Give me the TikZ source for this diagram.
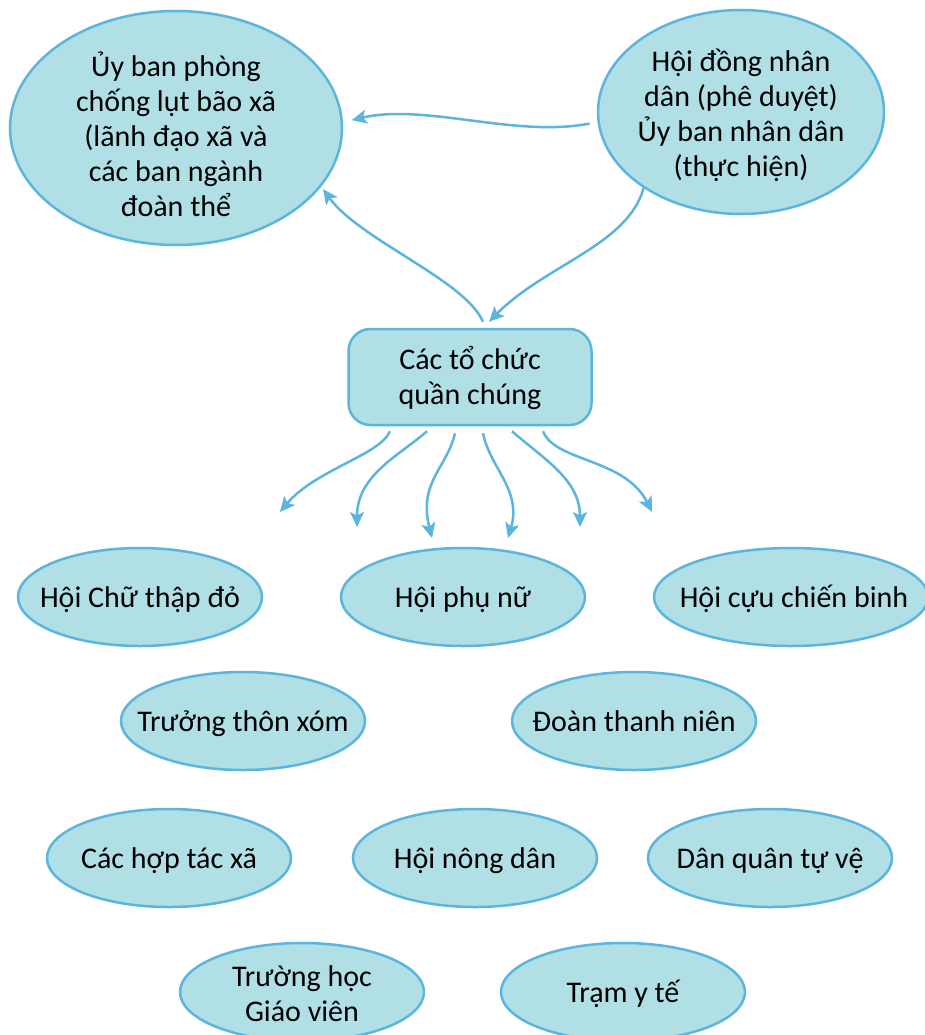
\documentclass[tikz,border=0pt]{standalone}
\usepackage{fontspec}
\setmainfont{Carlito}
\usetikzlibrary{arrows.meta,shapes.geometric}
\definecolor{bfill}{HTML}{B0DFE6}
\definecolor{bline}{HTML}{5BB5DC}
\begin{document}
\begin{tikzpicture}[x=1pt,y=-1pt,
  bub/.style={ellipse, draw=bline, fill=bfill, line width=2.5pt, inner sep=0pt},
  rowbub/.style={bub, minimum width=244pt, minimum height=98pt},
  txt/.style={align=center, font=\fontsize{30}{35}\selectfont, text=black, inner sep=0pt},
  ltxt/.style={txt, anchor=base},
  conn/.style={draw=bline, line width=2.5pt, -{Stealth[length=15pt,width=14pt,inset=3.5pt]}},
]
\useasboundingbox (0,0) rectangle (925,1035);

% top nodes
\node[bub, minimum width=332pt, minimum height=234pt] (ub) at (176,128) {};
\node[txt] (ubt) at (176,134) {Ủy ban phòng\\chống lụt bão xã\\(lãnh đạo xã và\\các ban ngành\\đoàn thể};

\node[bub, minimum width=286pt, minimum height=204pt] (hd) at (741,112) {};
\node[txt] (hdt) at (741,115) {Hội đồng nhân\\dân (phê duyệt)\\Ủy ban nhân dân\\(thực hiện)};

\node[draw=bline, fill=bfill, line width=2.5pt, rounded corners=22pt,
      minimum width=243pt, minimum height=96pt] (tc) at (470,377) {};
\node[txt] (tct) at (470,378) {Các tổ chức\\quần chúng};

% lower ellipses
\node[rowbub] (ctd) at (140,597) {};
\node[ltxt] at (140,607) {Hội Chữ thập đỏ};
\node[rowbub] (hpn) at (463,597) {};
\node[ltxt] at (463,607) {Hội phụ nữ};
\node[bub, minimum width=274pt, minimum height=98pt] (ccb) at (791,597) {};
\node[ltxt] at (794,607) {Hội cựu chiến binh};

\node[rowbub] (ttx) at (243,721) {};
\node[ltxt] at (243,731) {Trưởng thôn xóm};
\node[rowbub] (dtn) at (634,721) {};
\node[ltxt] at (634,731) {Đoàn thanh niên};

\node[rowbub] (htx) at (169,858) {};
\node[ltxt] at (169,868) {Các hợp tác xã};
\node[rowbub] (hnd) at (475,858) {};
\node[ltxt] at (475,868) {Hội nông dân};
\node[rowbub] (dqtv) at (770,858) {};
\node[ltxt] at (770,868) {Dân quân tự vệ};

\node[rowbub] (th) at (302,992) {};
\node[txt] at (302,994) {Trường học\\Giáo viên};
\node[rowbub] (tyt) at (623,992) {};
\node[ltxt] at (623,1002) {Trạm y tế};

% top connectors
\draw[conn, shorten <=8pt, shorten >=9pt] (hd.184) .. controls (515,138) and (425,103) .. (ub.2);
\draw[conn] (hd.218) .. controls (628,245) and (545,265) .. ([xshift=19pt,yshift=6pt]tc.north);
\draw[conn, shorten >=3pt] ([xshift=13pt,yshift=6pt]tc.north) .. controls (465,280) and (360,240) .. (ub.-22);

% free ends of the lower arrows
\coordinate (e1) at (280,512);
\coordinate (e2) at (357,527);
\coordinate (e3) at (432,538);
\coordinate (e4) at (508,538);
\coordinate (e5) at (580,527);
\coordinate (e6) at (652,512);

\draw[conn] ([xshift=-80pt,yshift=-5pt]tc.south) .. controls (380,455) and (315,470) .. (e1);
\draw[conn] ([xshift=-43pt,yshift=-5pt]tc.south) .. controls (400,455) and (357,475) .. (e2);
\draw[conn] ([xshift=-15pt,yshift=-7pt]tc.south) .. controls (447,468) and (418,482) .. (e3);
\draw[conn] ([xshift=13pt,yshift=-7pt]tc.south) .. controls (490,468) and (522,490) .. (e4);
\draw[conn] ([xshift=42pt,yshift=-5pt]tc.south) .. controls (545,460) and (580,480) .. (e5);
\draw[conn] ([xshift=73pt,yshift=-5pt]tc.south) .. controls (555,462) and (625,458) .. (e6);
\end{tikzpicture}
\end{document}
